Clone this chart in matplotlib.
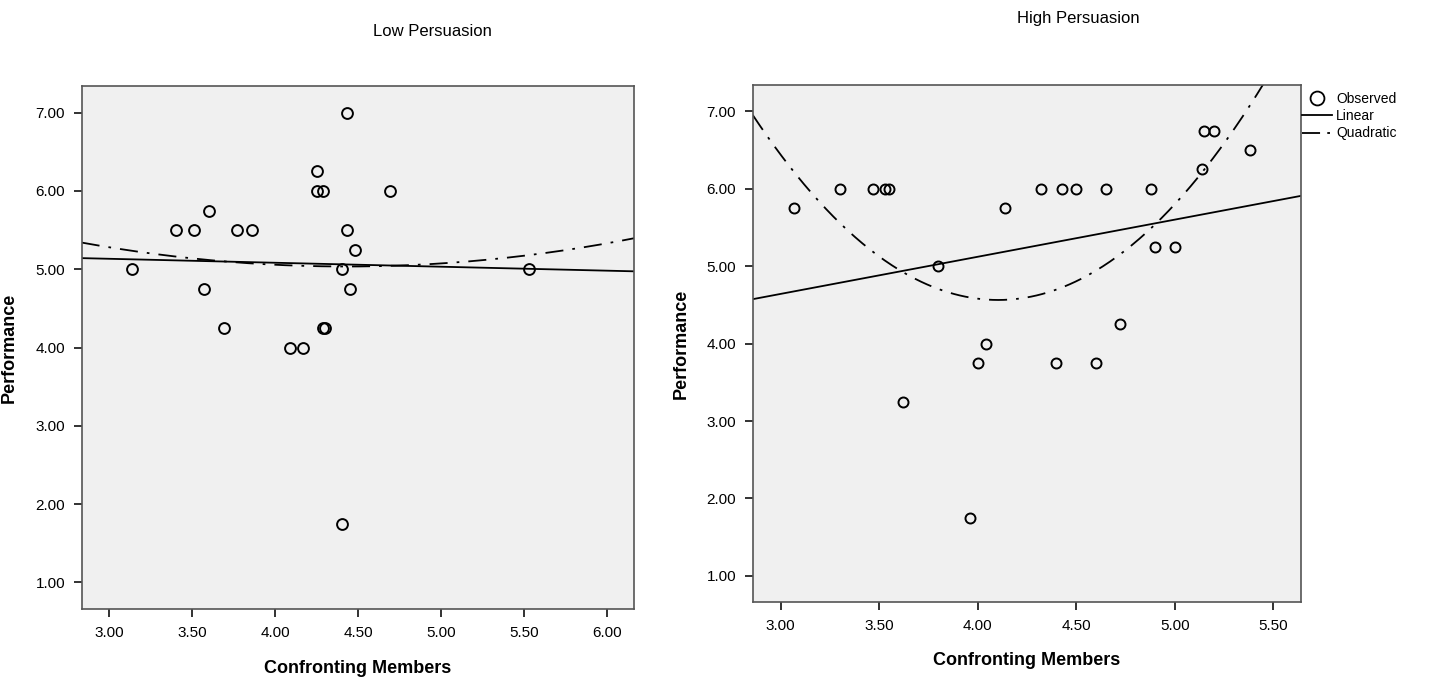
import numpy as np
import matplotlib
matplotlib.use("Agg")
import matplotlib.pyplot as plt
from matplotlib.lines import Line2D

# Low Persuasion: Confronting Members vs Performance
low_x = [3.14, 3.40, 3.51, 3.60, 3.57, 3.69, 3.77, 3.86, 4.09, 4.17, 4.25, 4.25,
         4.29, 4.29, 4.30, 4.43, 4.43, 4.48, 4.40, 4.45, 4.40, 4.69, 5.53]
low_y = [5.00, 5.50, 5.50, 5.75, 4.75, 4.25, 5.50, 5.50, 4.00, 4.00, 6.25, 6.00,
         6.00, 4.25, 4.25, 7.00, 5.50, 5.25, 5.00, 4.75, 1.75, 6.00, 5.00]

# High Persuasion
high_x = [3.07, 3.30, 3.47, 3.53, 3.55, 3.62, 3.80, 3.96, 4.00, 4.04, 4.14, 4.32,
          4.43, 4.50, 4.40, 4.60, 4.65, 4.72, 4.88, 4.90, 5.00, 5.14, 5.15, 5.20, 5.38]
high_y = [5.75, 6.00, 6.00, 6.00, 6.00, 3.25, 5.00, 1.75, 3.75, 4.00, 5.75, 6.00,
          6.00, 6.00, 3.75, 3.75, 6.00, 4.25, 6.00, 5.25, 5.25, 6.25, 6.75, 6.75, 6.50]

y_ticks = [1, 2, 3, 4, 5, 6, 7]
low_xticks = [3.0, 3.5, 4.0, 4.5, 5.0, 5.5, 6.0]
high_xticks = [3.0, 3.5, 4.0, 4.5, 5.0, 5.5]

plt.rcParams['font.family'] = ['Liberation Sans', 'DejaVu Sans']

fig = plt.figure(figsize=(14.55, 6.83), dpi=100)
ax1 = fig.add_axes([0.05615, 0.10835, 0.3798, 0.7657])
ax2 = fig.add_axes([0.5173, 0.1182, 0.3766, 0.7574])

quad_dash = (10, 5, 1.5, 5)


def draw_panel(ax, xs, ys, xlim, xticks, ms):
    xs = np.array(xs)
    ys = np.array(ys)
    ax.set_facecolor('#f0f0f0')
    ax.plot(xs, ys, 'o', mfc='none', mec='black', mew=1.4, ms=ms, zorder=3)

    # linear and quadratic fits of the observed points
    grid = np.linspace(xlim[0], xlim[1], 300)
    lin = np.polyfit(xs, ys, 1)
    quad = np.polyfit(xs, ys, 2)
    ax.plot(grid, np.polyval(lin, grid), color='black', lw=1.3, zorder=2)
    ax.plot(grid, np.polyval(quad, grid), color='black', lw=1.3,
            dashes=quad_dash, zorder=2)

    ax.set_xlim(*xlim)
    ax.set_ylim(0.66, 7.34)
    ax.set_xticks(xticks)
    ax.set_xticklabels([f'{t:.2f}' for t in xticks])
    ax.set_yticks(y_ticks)
    ax.set_yticklabels([f'{t:.2f}' for t in y_ticks])
    ax.tick_params(direction='out', length=6, width=1.3, labelsize=11,
                   color='#222222', pad=6)
    for sp in ax.spines.values():
        sp.set_color('#555555')
        sp.set_linewidth(1.2)
    ax.set_xlabel('Confronting Members', fontsize=13, fontweight='bold')
    ax.set_ylabel('Performance', fontsize=13, fontweight='bold')
    ax.xaxis.set_label_coords(0.5, -0.097)
    ax.yaxis.set_label_coords(-0.115, 0.5)


draw_panel(ax1, low_x, low_y, (2.835, 6.163), low_xticks, 7.8)
draw_panel(ax2, high_x, high_y, (2.858, 5.639), high_xticks, 7.2)

fig.text(432 / 1455, 1 - 31 / 683, 'Low Persuasion', ha='center', va='center',
         fontsize=12)
fig.text(1078 / 1455, 1 - 19 / 683, 'High Persuasion', ha='center', va='center',
         fontsize=12)

handles = [
    Line2D([], [], ls='none', marker='o', mfc='none', mec='black', mew=1.3, ms=10),
    Line2D([], [], color='black', lw=1.3),
    Line2D([], [], color='black', lw=1.3, dashes=(10, 4, 1.5, 4)),
]
fig.legend(handles, ['Observed', 'Linear', 'Quadratic'],
           loc='upper left', bbox_to_anchor=(1296 / 1455, 1 - 86 / 683),
           frameon=False, fontsize=10, handlelength=2.2, handletextpad=0.3,
           labelspacing=0.25, borderaxespad=0)

fig.savefig('out.png', dpi=100)
